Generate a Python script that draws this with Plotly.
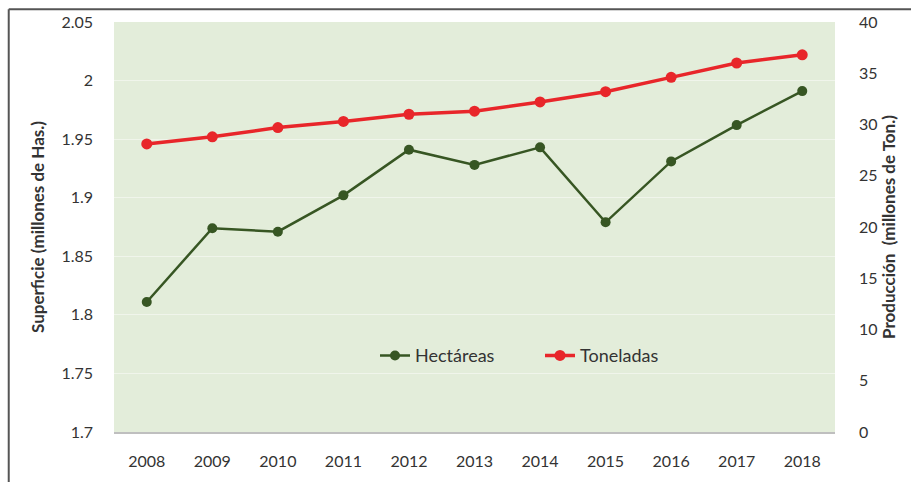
import plotly.graph_objects as go

years = [2008, 2009, 2010, 2011, 2012, 2013, 2014, 2015, 2016, 2017, 2018]
hectareas = [1.811, 1.874, 1.871, 1.902, 1.941, 1.928, 1.943, 1.879, 1.931, 1.962, 1.991]
toneladas = [28.1, 28.8, 29.7, 30.3, 31.0, 31.3, 32.2, 33.2, 34.6, 36.0, 36.8]

font_family = "Lato, Open Sans, sans-serif"
txt = "#333333"

fig = go.Figure()

fig.add_trace(go.Scatter(
    x=years, y=hectareas, name="Hectáreas", mode="lines+markers",
    line=dict(color="#375623", width=2.5),
    marker=dict(color="#375623", size=10),
))
fig.add_trace(go.Scatter(
    x=years, y=toneladas, name="Toneladas", mode="lines+markers", yaxis="y2",
    line=dict(color="#E8262A", width=3.5),
    marker=dict(color="#E8262A", size=11),
))

fig.update_layout(
    width=911, height=482,
    margin=dict(l=114, r=76, t=20, b=49),
    paper_bgcolor="white",
    plot_bgcolor="#E3EDDA",
    font=dict(family=font_family, size=16, color=txt),
    showlegend=True,
    legend=dict(
        orientation="h", x=0.362, y=0.186, xanchor="left", yanchor="middle",
        bgcolor="rgba(0,0,0,0)", font=dict(size=18, color=txt),
        entrywidth=120, entrywidthmode="pixels",
    ),
    xaxis=dict(
        range=[2007.5, 2018.5], tickmode="array", tickvals=years,
        ticktext=[str(y) for y in years],
        showgrid=False, zeroline=False,
        showline=True, linecolor="#BFBFBF", linewidth=2,
        ticks="", ticklabelstandoff=14,
    ),
    yaxis=dict(
        range=[1.7, 2.05], dtick=0.05, tick0=1.7,
        showgrid=True, gridcolor="rgba(255,255,255,0.45)", gridwidth=1,
        zeroline=False, showline=False, ticks="", ticklabelstandoff=20,
        title=dict(text="<b>Superficie (millones de Has.)</b>", standoff=12,
                   font=dict(size=17, color=txt)),
    ),
    yaxis2=dict(
        range=[0, 40], dtick=5, overlaying="y", side="right",
        showgrid=False, zeroline=False, showline=False, ticks="",
        ticklabelstandoff=23,
        title=dict(text="<b>Producción  (millones de Ton.)</b>", standoff=6,
                   font=dict(size=17, color=txt)),
    ),
    shapes=[
        dict(type="line", xref="paper", yref="paper",
             x0=-0.146, x1=1.2, y0=1.031, y1=1.031,
             line=dict(color="#555555", width=2)),
        dict(type="line", xref="paper", yref="paper",
             x0=-0.146, x1=-0.146, y0=1.031, y1=-0.2,
             line=dict(color="#555555", width=2)),
    ],
)

fig.write_html("out.html", config={"displayModeBar": False},
               post_script="document.body.style.margin='0';")
